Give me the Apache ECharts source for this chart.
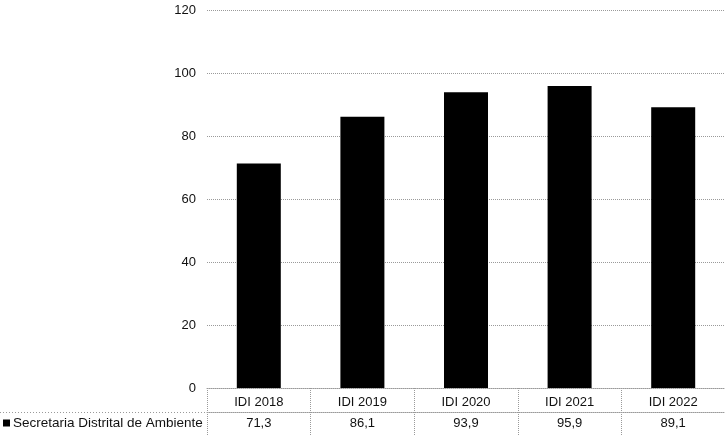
<!DOCTYPE html>
<html><head><meta charset="utf-8">
<script src="https://cdn.jsdelivr.net/npm/echarts@6/dist/echarts.min.js"></script>
<style>html,body{margin:0;padding:0;background:#fff}#c{width:725px;height:435px}</style>
</head><body><div id="c"></div>
<script>
const categories = ['IDI 2018','IDI 2019','IDI 2020','IDI 2021','IDI 2022'];
const seriesName = 'Secretaria Distrital de Ambiente';
const values = [71.3, 86.1, 93.9, 95.9, 89.1];
const yTicks = {min: 0, max: 120, interval: 20};

const fmt = v => v.toFixed(1).replace('.', ',');
const font = '"Liberation Sans", Arial, sans-serif';
const dot = {color: '#9a9a9a', type: 'dotted', width: 1};

const chart = echarts.init(document.getElementById('c'));
chart.setOption({
  animation: false,
  grid: {left: 207, right: 0, top: 10, bottom: 47},
  legend: {
    data: [seriesName], left: 3, top: 416, padding: 0, icon: 'rect', itemWidth: 7, itemHeight: 7, itemGap: 4,
    textStyle: {fontFamily: font, fontSize: 13.5, color: '#111', padding: [0,0,0,-2]},
    selectedMode: false
  },
  xAxis: [{
    type: 'category', data: categories, position: 'bottom',
    axisLine: {show: true, lineStyle: dot},
    axisTick: {show: true, length: 47, alignWithLabel: false, lineStyle: dot},
    axisLabel: {fontFamily: font, fontSize: 13, color: '#111', margin: 8}
  }, {
    type: 'category', data: categories, position: 'bottom', offset: 24,
    axisLine: {show: true, lineStyle: dot},
    axisTick: {show: false},
    axisLabel: {fontFamily: font, fontSize: 13, color: '#111', margin: 5,
      formatter: (v, i) => fmt(values[i])}
  }],
  yAxis: {
    type: 'value', min: yTicks.min, max: yTicks.max, interval: yTicks.interval,
    axisLine: {show: false}, axisTick: {show: false},
    splitLine: {lineStyle: dot},
    axisLabel: {fontFamily: font, fontSize: 13, color: '#111', margin: 11}
  },
  graphic: [{type: 'line', shape: {x1: 0, y1: 412.5, x2: 207, y2: 412.5}, style: {stroke: '#9a9a9a', lineDash: [1,2], lineWidth: 1}}],
  series: [{
    name: seriesName, type: 'bar', data: values, barWidth: 44,
    itemStyle: {color: '#000'}
  }]
});
</script></body></html>
